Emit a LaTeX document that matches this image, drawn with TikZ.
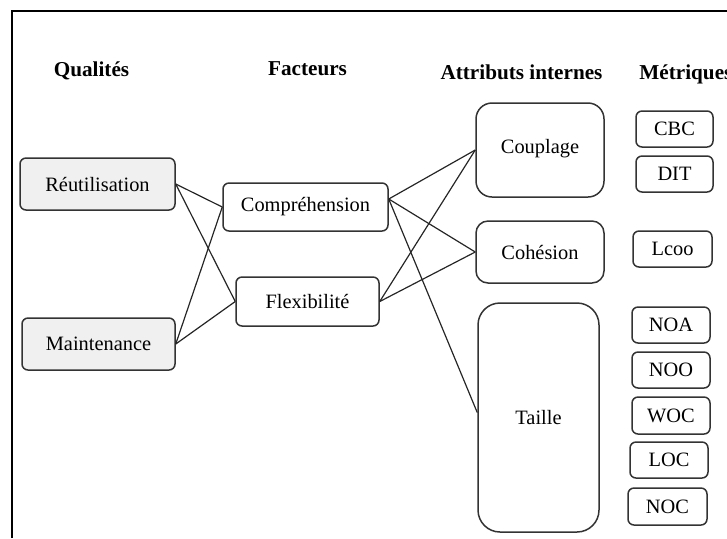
\documentclass[tikz,border=0pt]{standalone}
\usepackage{fontspec}
\setmainfont{Liberation Serif}
\begin{document}
\begin{tikzpicture}[x=0.5pt,y=-0.5pt,
  box/.style={draw=black!80, line width=0.75pt, inner sep=0pt, align=center,
              font=\fontsize{10.2}{12}\selectfont, rounded corners=3pt},
  quality/.style={box, fill=black!6},
  factor/.style={box},
  attr/.style={box},
  metric/.style={box, rounded corners=3pt},
  heading/.style={anchor=base, inner sep=0pt, font=\fontsize{10.6}{12}\selectfont\bfseries},
  link/.style={draw=black!85, line width=0.6pt}]
\useasboundingbox (0,0) rectangle (727,538);

% outer frame (open to the right and bottom)
\draw[line width=0.9pt] (12,538) -- (12,11) -- (727,11);

% box given by its corners: name, x1, y1, x2, y2, text, style
\newcommand\cornerbox[7]{%
  \node[#7, minimum width={(#4-#2)*0.5pt}, minimum height={(#5-#3)*0.5pt}]
    (#1) at ({(#2+#4)/2},{(#3+#5)/2}) {#6};}

% column headings
\node[heading] (hq) at (91.5,76) {Qualités};
\node[heading] (hf) at (307.5,75) {Facteurs};
\node[heading] (ha) at (521.5,79) {Attributs internes};
\node[heading, anchor=base west] (hm) at (639,79) {Métriques};

% qualities
\cornerbox{reut}{20}{158}{175}{210}{Réutilisation}{quality}
\cornerbox{maint}{22}{318}{175}{370}{Maintenance}{quality}

% factors
\cornerbox{comp}{223}{183}{388}{231}{Compréhension}{factor}
\cornerbox{flex}{236}{277}{379}{326}{Flexibilité}{factor}

% internal attributes
\cornerbox{coup}{476}{103}{604}{197}{\raisebox{4pt}{Couplage}}{attr, rounded corners=8pt}
\cornerbox{coh}{476}{221}{604}{283}{Cohésion}{attr, rounded corners=6pt}
\cornerbox{taille}{478}{303}{599}{532}{Taille}{attr, rounded corners=11pt}

% metrics
\cornerbox{cbc}{636}{111}{713}{147}{CBC}{metric}
\cornerbox{dit}{636}{156}{713}{192}{DIT}{metric}
\cornerbox{lcoo}{633}{231}{712}{267}{Lcoo}{metric}
\cornerbox{noa}{632}{307}{710}{343}{NOA}{metric}
\cornerbox{noo}{632}{352}{710}{388}{NOO}{metric}
\cornerbox{woc}{632}{397}{710}{434}{WOC}{metric}
\cornerbox{loc}{630}{442}{708}{478}{LOC}{metric}
\cornerbox{noc}{628}{488}{707}{525}{NOC}{metric}

% qualities -> factors
\draw[link] (reut.east) -- (comp.west);
\draw[link] (reut.east) -- (flex.west);
\draw[link] (maint.east) -- (comp.west);
\draw[link] (maint.east) -- (flex.west);

% factors -> internal attributes
\coordinate (compout) at ([yshift=4pt]comp.east);
\draw[link] (compout) -- (coup.west);
\draw[link] (compout) -- (coh.west);
\draw[link] (compout) -- ([yshift=2.5pt]taille.west);
\draw[link] (flex.east) -- (coup.west);
\draw[link] (flex.east) -- (coh.west);
\end{tikzpicture}
\end{document}
